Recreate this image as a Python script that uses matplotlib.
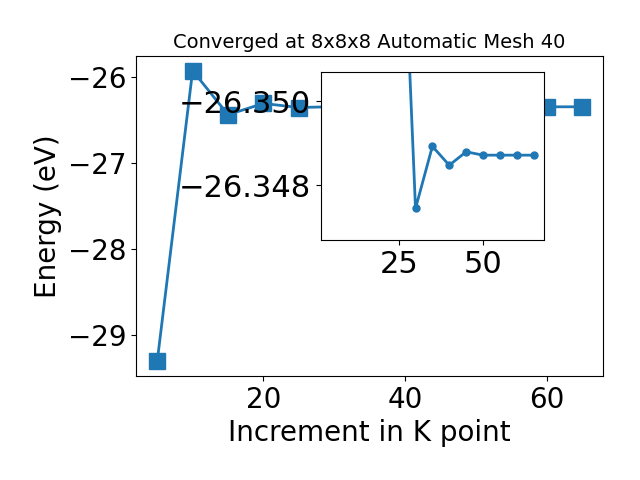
import numpy as np
import matplotlib
matplotlib.use("Agg")
import matplotlib.pyplot as plt

# k-point increments and total energies (eV)
kpoints = [5, 10, 15, 20, 25, 30, 35, 40, 45, 50, 55, 60, 65]
energy = [-29.30, -25.93, -26.44, -26.31, -26.357, -26.34745, -26.34893,
          -26.34848, -26.34880, -26.34872, -26.34872, -26.34872, -26.34872]

# inset only shows the tail of the convergence run (from 25 onwards)
start = 4

fig = plt.figure(figsize=(6.4, 4.8), dpi=100)
ax = fig.add_axes([0.2125, 0.217, 0.73, 0.666])
ax.plot(kpoints, energy, marker='s', markersize=11, linewidth=2, color='#1f77b4')
ax.set_xlabel('Increment in K point', fontsize=20)
ax.set_ylabel('Energy (eV)', fontsize=20)
ax.set_title('Converged at 8x8x8 Automatic Mesh 40', fontsize=14)
ax.tick_params(labelsize=20)

# zoomed inset of the converged region
axins = fig.add_axes([0.5016, 0.5, 0.348, 0.35])
axins.plot(kpoints[start:], energy[start:], marker='o', markersize=5,
           linewidth=2, color='#1f77b4')
axins.set_xlim(ax.get_xlim())
axins.set_ylim(-26.3467, -26.3507)
axins.set_yticks([-26.350, -26.348])
axins.set_xticks([25, 50])
axins.tick_params(labelsize=22)

fig.savefig('out.png', dpi=100)
